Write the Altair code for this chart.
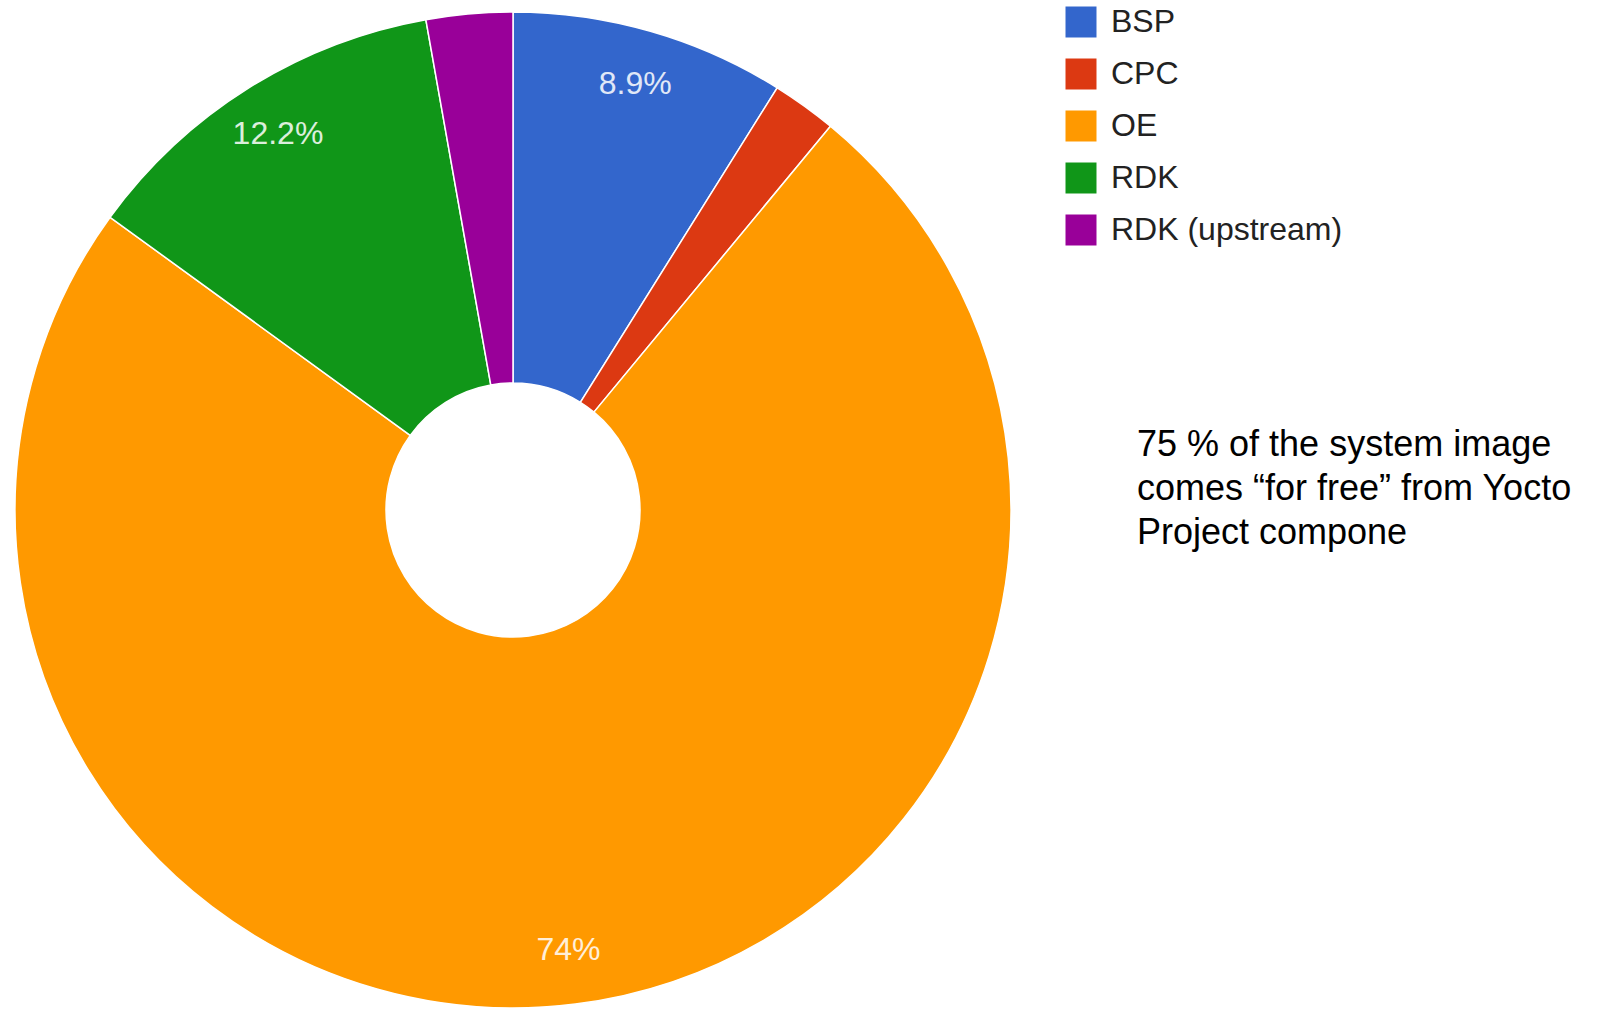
import altair as alt
import pandas as pd

categories = ["BSP", "CPC", "OE", "RDK", "RDK (upstream)"]
values = [8.9, 2.1, 74.0, 12.2, 2.8]
labels = ["8.9%", "", "74%", "12.2%", ""]
colors = ["#3366cc", "#dc3912", "#ff9900", "#109618", "#990099"]
note_lines = ["75 % of the system image", "comes \u201cfor free\u201d from Yocto", "Project compone"]

df = pd.DataFrame({
    "category": categories,
    "value": values,
    "label": labels,
    "order": list(range(len(categories))),
})

FONT = "Liberation Sans"
CX, CY = 513, 510

base = alt.Chart(df).encode(
    theta=alt.Theta("value:Q", stack=True),
    order=alt.Order("order:Q"),
)

arcs = base.mark_arc(outerRadius=498, innerRadius=127, stroke="white", strokeWidth=1.5).encode(
    x=alt.value(CX),
    y=alt.value(CY),
    color=alt.Color(
        "category:N",
        scale=alt.Scale(domain=categories, range=colors),
        sort=categories,
        legend=alt.Legend(
            title=None,
            orient="none",
            legendX=1065,
            legendY=6,
            padding=0,
            symbolType="square",
            symbolSize=961,
            symbolStrokeWidth=0,
            symbolOpacity=1,
            labelFontSize=32,
            labelFont=FONT,
            labelColor="#222222",
            labelOffset=14,
            labelLimit=500,
            rowPadding=20,
        ),
    ),
)

texts = base.mark_text(radius=443, fontSize=32, font=FONT, opacity=0.85).encode(
    x=alt.value(CX),
    y=alt.value(CY),
    text="label:N",
    color=alt.value("white"),
)

note = alt.Chart(pd.DataFrame({"t": ["\n".join(note_lines)]})).mark_text(
    align="left", baseline="alphabetic", fontSize=36, font=FONT, color="#000000",
    lineBreak="\n", lineHeight=44,
).encode(x=alt.value(1137), y=alt.value(456), text="t:N")

chart = alt.layer(arcs, texts, note).properties(
    width=1604, height=1009,
    autosize=alt.AutoSizeParams(type="none"),
    padding=0,
).configure_view(stroke=None)

chart.save("out.html", embed_options={"renderer": "svg", "actions": False})
